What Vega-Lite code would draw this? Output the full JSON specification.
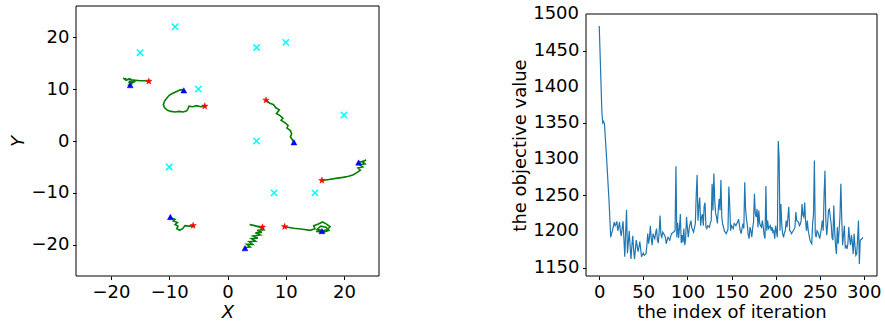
{
 "$schema": "https://vega.github.io/schema/vega-lite/v6.json",
 "autosize": {"type": "fit", "contains": "padding"},
 "width": 885,
 "height": 325,
 "padding": {"left": 9, "top": 5, "right": 5, "bottom": 4},
 "config": {
  "font": "DejaVu Sans",
  "view": {"stroke": null},
  "axis": {"domain": false, "grid": false, "tickColor": "#000", "tickSize": 3.5, "labelFontSize": 18, "labelColor": "#000", "titleFontSize": 18, "titleFontWeight": "normal", "titleColor": "#000", "labelPadding": 3.5, "labelFlush": false, "labelOverlap": false}
 },
 "datasets": {
  "paths": [
   {"a":1,"k":0,"x":-13.5,"y":11.5},{"a":1,"k":1,"x":-14.2,"y":11.6},{"a":1,"k":2,"x":-15.0,"y":11.6},{"a":1,"k":3,"x":-15.8,"y":11.7},{"a":1,"k":4,"x":-16.6,"y":11.8},{"a":1,"k":5,"x":-17.3,"y":11.9},{"a":1,"k":6,"x":-17.9,"y":12.1},{"a":1,"k":7,"x":-17.4,"y":11.7},{"a":1,"k":8,"x":-16.8,"y":12.0},{"a":1,"k":9,"x":-16.2,"y":11.6},{"a":1,"k":10,"x":-16.9,"y":11.4},{"a":1,"k":11,"x":-15.8,"y":11.5},{"a":1,"k":12,"x":-16.4,"y":11.2},{"a":1,"k":13,"x":-17.0,"y":11.3},{"a":1,"k":14,"x":-16.5,"y":11.0},{"a":1,"k":15,"x":-16.9,"y":10.8},{"a":1,"k":16,"x":-16.7,"y":10.7},
   {"a":2,"k":0,"x":-3.9,"y":6.7},{"a":2,"k":1,"x":-4.6,"y":6.6},{"a":2,"k":2,"x":-5.3,"y":6.8},{"a":2,"k":3,"x":-6.0,"y":6.6},{"a":2,"k":4,"x":-6.6,"y":6.7},{"a":2,"k":5,"x":-6.8,"y":6.2},{"a":2,"k":6,"x":-7.0,"y":5.8},{"a":2,"k":7,"x":-7.6,"y":5.6},{"a":2,"k":8,"x":-8.3,"y":5.7},{"a":2,"k":9,"x":-9.0,"y":5.6},{"a":2,"k":10,"x":-9.7,"y":5.7},{"a":2,"k":11,"x":-10.3,"y":5.9},{"a":2,"k":12,"x":-10.8,"y":6.4},{"a":2,"k":13,"x":-11.0,"y":7.0},{"a":2,"k":14,"x":-10.8,"y":7.7},{"a":2,"k":15,"x":-10.4,"y":8.3},{"a":2,"k":16,"x":-10.0,"y":8.8},{"a":2,"k":17,"x":-9.4,"y":9.2},{"a":2,"k":18,"x":-8.8,"y":9.5},{"a":2,"k":19,"x":-8.2,"y":9.8},{"a":2,"k":20,"x":-7.8,"y":9.9},{"a":2,"k":21,"x":-7.5,"y":9.7},
   {"a":3,"k":0,"x":6.6,"y":7.85},{"a":3,"k":1,"x":7.2,"y":7.3},{"a":3,"k":2,"x":7.9,"y":7.0},{"a":3,"k":3,"x":8.3,"y":6.4},{"a":3,"k":4,"x":8.9,"y":6.0},{"a":3,"k":5,"x":8.4,"y":5.3},{"a":3,"k":6,"x":9.0,"y":4.9},{"a":3,"k":7,"x":9.5,"y":4.4},{"a":3,"k":8,"x":9.2,"y":4.0},{"a":3,"k":9,"x":9.9,"y":3.5},{"a":3,"k":10,"x":10.4,"y":3.0},{"a":3,"k":11,"x":10.2,"y":2.5},{"a":3,"k":12,"x":10.8,"y":2.0},{"a":3,"k":13,"x":11.0,"y":1.4},{"a":3,"k":14,"x":10.8,"y":0.8},{"a":3,"k":15,"x":11.1,"y":0.3},{"a":3,"k":16,"x":11.4,"y":-0.3},
   {"a":4,"k":0,"x":16.2,"y":-7.6},{"a":4,"k":1,"x":17.4,"y":-7.4},{"a":4,"k":2,"x":18.6,"y":-7.2},{"a":4,"k":3,"x":19.8,"y":-7.0},{"a":4,"k":4,"x":20.8,"y":-6.8},{"a":4,"k":5,"x":21.6,"y":-6.5},{"a":4,"k":6,"x":22.2,"y":-6.1},{"a":4,"k":7,"x":22.8,"y":-5.6},{"a":4,"k":8,"x":22.4,"y":-5.2},{"a":4,"k":9,"x":23.2,"y":-5.0},{"a":4,"k":10,"x":22.7,"y":-4.6},{"a":4,"k":11,"x":23.6,"y":-4.4},{"a":4,"k":12,"x":23.1,"y":-4.0},{"a":4,"k":13,"x":23.8,"y":-3.7},{"a":4,"k":14,"x":23.2,"y":-3.9},{"a":4,"k":15,"x":22.5,"y":-4.2},
   {"a":5,"k":0,"x":-5.9,"y":-16.3},{"a":5,"k":1,"x":-6.6,"y":-16.4},{"a":5,"k":2,"x":-7.3,"y":-16.3},{"a":5,"k":3,"x":-7.7,"y":-16.9},{"a":5,"k":4,"x":-8.2,"y":-17.2},{"a":5,"k":5,"x":-8.7,"y":-16.9},{"a":5,"k":6,"x":-8.5,"y":-16.4},{"a":5,"k":7,"x":-9.0,"y":-16.1},{"a":5,"k":8,"x":-8.6,"y":-15.7},{"a":5,"k":9,"x":-9.3,"y":-15.4},{"a":5,"k":10,"x":-9.0,"y":-15.1},{"a":5,"k":11,"x":-9.6,"y":-14.9},{"a":5,"k":12,"x":-9.8,"y":-14.7},
   {"a":6,"k":0,"x":6.0,"y":-16.6},{"a":6,"k":1,"x":3.8,"y":-16.1},{"a":6,"k":2,"x":5.6,"y":-16.6},{"a":6,"k":3,"x":6.2,"y":-17.1},{"a":6,"k":4,"x":5.1,"y":-17.2},{"a":6,"k":5,"x":5.9,"y":-17.6},{"a":6,"k":6,"x":4.8,"y":-17.7},{"a":6,"k":7,"x":5.6,"y":-18.1},{"a":6,"k":8,"x":4.4,"y":-18.3},{"a":6,"k":9,"x":5.2,"y":-18.7},{"a":6,"k":10,"x":4.1,"y":-18.8},{"a":6,"k":11,"x":4.8,"y":-19.3},{"a":6,"k":12,"x":3.7,"y":-19.4},{"a":6,"k":13,"x":4.3,"y":-19.9},{"a":6,"k":14,"x":3.3,"y":-19.9},{"a":6,"k":15,"x":3.9,"y":-20.4},{"a":6,"k":16,"x":3.1,"y":-20.5},{"a":6,"k":17,"x":3.0,"y":-20.7},
   {"a":7,"k":0,"x":9.8,"y":-16.5},{"a":7,"k":1,"x":11.4,"y":-16.8},{"a":7,"k":2,"x":12.9,"y":-17.0},{"a":7,"k":3,"x":14.2,"y":-17.2},{"a":7,"k":4,"x":15.0,"y":-16.9},{"a":7,"k":5,"x":14.8,"y":-16.3},{"a":7,"k":6,"x":15.6,"y":-16.0},{"a":7,"k":7,"x":16.3,"y":-15.6},{"a":7,"k":8,"x":17.0,"y":-16.0},{"a":7,"k":9,"x":17.6,"y":-16.5},{"a":7,"k":10,"x":17.1,"y":-17.1},{"a":7,"k":11,"x":16.3,"y":-17.3},{"a":7,"k":12,"x":15.4,"y":-17.0},{"a":7,"k":13,"x":16.0,"y":-16.4},{"a":7,"k":14,"x":16.9,"y":-16.6},{"a":7,"k":15,"x":17.4,"y":-17.2},{"a":7,"k":16,"x":16.6,"y":-17.5},{"a":7,"k":17,"x":15.2,"y":-17.4},{"a":7,"k":18,"x":16.2,"y":-17.4}
  ],
  "targets": [
   {"x":-9,"y":22},{"x":-15,"y":17},{"x":5,"y":18},{"x":10,"y":19},{"x":-5,"y":10},{"x":20,"y":5},{"x":5,"y":0},{"x":-10,"y":-5},{"x":8,"y":-10},{"x":15,"y":-10}
  ],
  "starts": [
   {"x":-13.5,"y":11.5},{"x":-3.9,"y":6.7},{"x":6.6,"y":7.85},{"x":16.2,"y":-7.6},{"x":-5.9,"y":-16.3},{"x":6.0,"y":-16.6},{"x":9.8,"y":-16.5}
  ],
  "ends": [
   {"x":-16.7,"y":10.7},{"x":-7.5,"y":9.7},{"x":11.4,"y":-0.3},{"x":22.5,"y":-4.2},{"x":-9.8,"y":-14.7},{"x":3.0,"y":-20.7},{"x":16.2,"y":-17.4}
  ],
  "ylabels": [
   {"v":1200},{"v":1300},{"v":1400},{"v":1500}
  ],
  "obj": [
   {"i":0,"v":1484},{"i":1,"v":1445},{"i":2,"v":1405},{"i":3,"v":1365},{"i":4,"v":1350},{"i":5,"v":1352},{"i":6,"v":1348},{"i":7,"v":1328},{"i":8,"v":1308},{"i":9,"v":1288},
   {"i":10,"v":1266},{"i":11,"v":1245},{"i":12,"v":1220},{"i":13,"v":1192},{"i":14,"v":1197},{"i":15,"v":1201},{"i":16,"v":1207},{"i":17,"v":1213},{"i":18,"v":1208},{"i":19,"v":1210},
   {"i":20,"v":1214},{"i":21,"v":1201},{"i":22,"v":1206},{"i":23,"v":1213},{"i":24,"v":1200},{"i":25,"v":1194},{"i":26,"v":1205},{"i":27,"v":1214},{"i":28,"v":1190},{"i":29,"v":1165},
   {"i":30,"v":1200},{"i":31,"v":1230},{"i":32,"v":1170},{"i":33,"v":1185},{"i":34,"v":1201},{"i":35,"v":1180},{"i":36,"v":1162},{"i":37,"v":1180},{"i":38,"v":1194},{"i":39,"v":1175},
   {"i":40,"v":1162},{"i":41,"v":1175},{"i":42,"v":1188},{"i":43,"v":1180},{"i":44,"v":1172},{"i":45,"v":1178},{"i":46,"v":1186},{"i":47,"v":1176},{"i":48,"v":1165},{"i":49,"v":1168},
   {"i":50,"v":1170},{"i":51,"v":1167},{"i":52,"v":1168},{"i":53,"v":1169},{"i":54,"v":1180},{"i":55,"v":1197},{"i":56,"v":1183},{"i":57,"v":1192},{"i":58,"v":1208},{"i":59,"v":1190},
   {"i":60,"v":1181},{"i":61,"v":1197},{"i":62,"v":1193},{"i":63,"v":1190},{"i":64,"v":1198},{"i":65,"v":1204},{"i":66,"v":1188},{"i":67,"v":1184},{"i":68,"v":1200},{"i":69,"v":1222},
   {"i":70,"v":1195},{"i":71,"v":1192},{"i":72,"v":1199},{"i":73,"v":1197},{"i":74,"v":1195},{"i":75,"v":1192},{"i":76,"v":1183},{"i":77,"v":1188},{"i":78,"v":1192},{"i":79,"v":1190},
   {"i":80,"v":1188},{"i":81,"v":1193},{"i":82,"v":1197},{"i":83,"v":1198},{"i":84,"v":1199},{"i":85,"v":1200},{"i":86,"v":1201},{"i":87,"v":1290},{"i":88,"v":1192},{"i":89,"v":1212},
   {"i":90,"v":1191},{"i":91,"v":1205},{"i":92,"v":1224},{"i":93,"v":1184},{"i":94,"v":1195},{"i":95,"v":1185},{"i":96,"v":1204},{"i":97,"v":1181},{"i":98,"v":1190},{"i":99,"v":1220},
   {"i":100,"v":1205},{"i":101,"v":1192},{"i":102,"v":1204},{"i":103,"v":1210},{"i":104,"v":1215},{"i":105,"v":1205},{"i":106,"v":1202},{"i":107,"v":1199},{"i":108,"v":1205},{"i":109,"v":1211},
   {"i":110,"v":1250},{"i":111,"v":1278},{"i":112,"v":1215},{"i":113,"v":1235},{"i":114,"v":1247},{"i":115,"v":1208},{"i":116,"v":1220},{"i":117,"v":1224},{"i":118,"v":1208},{"i":119,"v":1235},
   {"i":120,"v":1240},{"i":121,"v":1206},{"i":122,"v":1204},{"i":123,"v":1208},{"i":124,"v":1207},{"i":125,"v":1206},{"i":126,"v":1212},{"i":127,"v":1215},{"i":128,"v":1266},{"i":129,"v":1229},
   {"i":130,"v":1280},{"i":131,"v":1243},{"i":132,"v":1225},{"i":133,"v":1220},{"i":134,"v":1211},{"i":135,"v":1230},{"i":136,"v":1245},{"i":137,"v":1229},{"i":138,"v":1271},{"i":139,"v":1220},
   {"i":140,"v":1210},{"i":141,"v":1206},{"i":142,"v":1200},{"i":143,"v":1199},{"i":144,"v":1197},{"i":145,"v":1200},{"i":146,"v":1203},{"i":147,"v":1262},{"i":148,"v":1235},{"i":149,"v":1201},
   {"i":150,"v":1208},{"i":151,"v":1206},{"i":152,"v":1204},{"i":153,"v":1211},{"i":154,"v":1210},{"i":155,"v":1208},{"i":156,"v":1211},{"i":157,"v":1213},{"i":158,"v":1217},{"i":159,"v":1208},
   {"i":160,"v":1201},{"i":161,"v":1197},{"i":162,"v":1205},{"i":163,"v":1211},{"i":164,"v":1204},{"i":165,"v":1268},{"i":166,"v":1230},{"i":167,"v":1217},{"i":168,"v":1208},{"i":169,"v":1195},
   {"i":170,"v":1190},{"i":171,"v":1206},{"i":172,"v":1201},{"i":173,"v":1192},{"i":174,"v":1205},{"i":175,"v":1213},{"i":176,"v":1252},{"i":177,"v":1225},{"i":178,"v":1220},{"i":179,"v":1231},
   {"i":180,"v":1206},{"i":181,"v":1229},{"i":182,"v":1211},{"i":183,"v":1208},{"i":184,"v":1206},{"i":185,"v":1215},{"i":186,"v":1206},{"i":187,"v":1195},{"i":188,"v":1190},{"i":189,"v":1263},
   {"i":190,"v":1201},{"i":191,"v":1215},{"i":192,"v":1204},{"i":193,"v":1206},{"i":194,"v":1208},{"i":195,"v":1201},{"i":196,"v":1206},{"i":197,"v":1199},{"i":198,"v":1201},{"i":199,"v":1190},
   {"i":200,"v":1208},{"i":201,"v":1200},{"i":202,"v":1192},{"i":203,"v":1325},{"i":204,"v":1302},{"i":205,"v":1201},{"i":206,"v":1238},{"i":207,"v":1210},{"i":208,"v":1197},{"i":209,"v":1192},
   {"i":210,"v":1198},{"i":211,"v":1201},{"i":212,"v":1215},{"i":213,"v":1206},{"i":214,"v":1220},{"i":215,"v":1234},{"i":216,"v":1201},{"i":217,"v":1200},{"i":218,"v":1197},{"i":219,"v":1199},
   {"i":220,"v":1201},{"i":221,"v":1203},{"i":222,"v":1206},{"i":223,"v":1227},{"i":224,"v":1215},{"i":225,"v":1214},{"i":226,"v":1213},{"i":227,"v":1208},{"i":228,"v":1210},{"i":229,"v":1215},
   {"i":230,"v":1238},{"i":231,"v":1222},{"i":232,"v":1220},{"i":233,"v":1240},{"i":234,"v":1215},{"i":235,"v":1201},{"i":236,"v":1215},{"i":237,"v":1201},{"i":238,"v":1195},{"i":239,"v":1188},
   {"i":240,"v":1185},{"i":241,"v":1183},{"i":242,"v":1211},{"i":243,"v":1224},{"i":244,"v":1298},{"i":245,"v":1197},{"i":246,"v":1192},{"i":247,"v":1201},{"i":248,"v":1199},{"i":249,"v":1195},
   {"i":250,"v":1190},{"i":251,"v":1197},{"i":252,"v":1205},{"i":253,"v":1215},{"i":254,"v":1201},{"i":255,"v":1250},{"i":256,"v":1284},{"i":257,"v":1215},{"i":258,"v":1195},{"i":259,"v":1210},
   {"i":260,"v":1229},{"i":261,"v":1231},{"i":262,"v":1220},{"i":263,"v":1211},{"i":264,"v":1192},{"i":265,"v":1188},{"i":266,"v":1236},{"i":267,"v":1201},{"i":268,"v":1180},{"i":269,"v":1169},
   {"i":270,"v":1206},{"i":271,"v":1183},{"i":272,"v":1201},{"i":273,"v":1220},{"i":274,"v":1266},{"i":275,"v":1220},{"i":276,"v":1181},{"i":277,"v":1195},{"i":278,"v":1208},{"i":279,"v":1178},
   {"i":280,"v":1180},{"i":281,"v":1176},{"i":282,"v":1183},{"i":283,"v":1206},{"i":284,"v":1190},{"i":285,"v":1181},{"i":286,"v":1195},{"i":287,"v":1185},{"i":288,"v":1169},{"i":289,"v":1197},
   {"i":290,"v":1180},{"i":291,"v":1167},{"i":292,"v":1169},{"i":293,"v":1190},{"i":294,"v":1215},{"i":295,"v":1155},{"i":296,"v":1188},{"i":297,"v":1189},{"i":298,"v":1190},{"i":299,"v":1192}
  ]
 },
 "resolve": {"scale": {"x": "independent", "y": "independent"}, "axis": {"x": "independent", "y": "independent"}},
 "layer": [
  {
   "layer": [
    {
     "data": {"name": "paths"},
     "mark": {"type": "line", "stroke": "#008000", "strokeWidth": 1.6},
     "encoding": {
      "x": {"field": "x", "type": "quantitative", "scale": {"domain": [-26, 26], "range": [0, 303], "nice": false, "zero": false}, "axis": {"orient": "bottom", "values": [-20, -10, 0, 10, 20], "format": "d", "labelOverlap": false, "title": "X", "titleFontStyle": "italic", "titlePadding": 2}},
      "y": {"field": "y", "type": "quantitative", "scale": {"domain": [-26, 26], "range": [{"expr": "height"}, 0], "nice": false, "zero": false}, "axis": {"orient": "left", "values": [-20, -10, 0, 10, 20], "format": "d", "labelOverlap": false, "title": "Y", "titleFontStyle": "italic", "titlePadding": 4}},
      "detail": {"field": "a", "type": "nominal"},
      "order": {"field": "k", "type": "quantitative"}
     }
    },
    {
     "data": {"values": [{}]},
     "mark": {"type": "rect", "fill": null, "stroke": "#000", "strokeWidth": 1},
     "encoding": {
      "x": {"datum": -26, "type": "quantitative"}, "x2": {"datum": 26},
      "y": {"datum": -26, "type": "quantitative"}, "y2": {"datum": 26}
     }
    },
    {
     "data": {"name": "targets"},
     "mark": {"type": "point", "shape": "M-1,-1L1,1M-1,1L1,-1", "filled": false, "stroke": "#00ffff", "strokeWidth": 1.5, "size": 40, "opacity": 1},
     "encoding": {"x": {"field": "x", "type": "quantitative"}, "y": {"field": "y", "type": "quantitative"}}
    },
    {
     "data": {"name": "starts"},
     "mark": {"type": "point", "shape": "M0,-1L0.235,-0.324L0.951,-0.309L0.38,0.124L0.588,0.809L0,0.4L-0.588,0.809L-0.38,0.124L-0.951,-0.309L-0.235,-0.324Z", "filled": true, "fill": "#ff0000", "stroke": "#ff0000", "strokeWidth": 0.5, "size": 45, "opacity": 1},
     "encoding": {"x": {"field": "x", "type": "quantitative"}, "y": {"field": "y", "type": "quantitative"}}
    },
    {
     "data": {"name": "ends"},
     "mark": {"type": "point", "shape": "M0,-1L1,0.8L-1,0.8Z", "filled": true, "fill": "#0000ff", "stroke": "#0000ff", "strokeWidth": 0.5, "size": 35, "opacity": 1},
     "encoding": {"x": {"field": "x", "type": "quantitative"}, "y": {"field": "y", "type": "quantitative"}}
    }
   ]
  },
  {
   "layer": [
    {
     "data": {"name": "obj"},
     "mark": {"type": "line", "stroke": "#1f77b4", "strokeWidth": 1.2},
     "encoding": {
      "x": {"field": "i", "type": "quantitative", "scale": {"domain": [-15, 315], "range": [510, 801], "nice": false, "zero": false}, "axis": {"orient": "bottom", "values": [0, 50, 100, 150, 200, 250, 300], "format": "d", "labelOverlap": false, "title": "the index of iteration", "titlePadding": 2}},
      "y": {"field": "v", "type": "quantitative", "scale": {"domain": [1138.5, 1500.5], "range": [{"expr": "height"}, 8], "nice": false, "zero": false}, "axis": {"orient": "left", "offset": -510, "values": [1150, 1200, 1250, 1300, 1350, 1400, 1450, 1500], "format": "d", "labelOverlap": false, "title": "the objective value", "titlePadding": 4}}
     }
    },
    {
     "data": {"name": "ylabels"},
     "mark": {"type": "text", "align": "right", "baseline": "middle", "dx": -7, "fontSize": 18, "font": "DejaVu Sans", "fill": "#000"},
     "encoding": {
      "x": {"datum": -15, "type": "quantitative"},
      "y": {"field": "v", "type": "quantitative"},
      "text": {"field": "v", "type": "quantitative", "format": "d"}
     }
    },
    {
     "data": {"values": [{}]},
     "mark": {"type": "rect", "fill": null, "stroke": "#000", "strokeWidth": 1},
     "encoding": {
      "x": {"datum": -15, "type": "quantitative"}, "x2": {"datum": 315},
      "y": {"datum": 1138.5, "type": "quantitative"}, "y2": {"datum": 1500.5}
     }
    }
   ]
  }
 ]
}
